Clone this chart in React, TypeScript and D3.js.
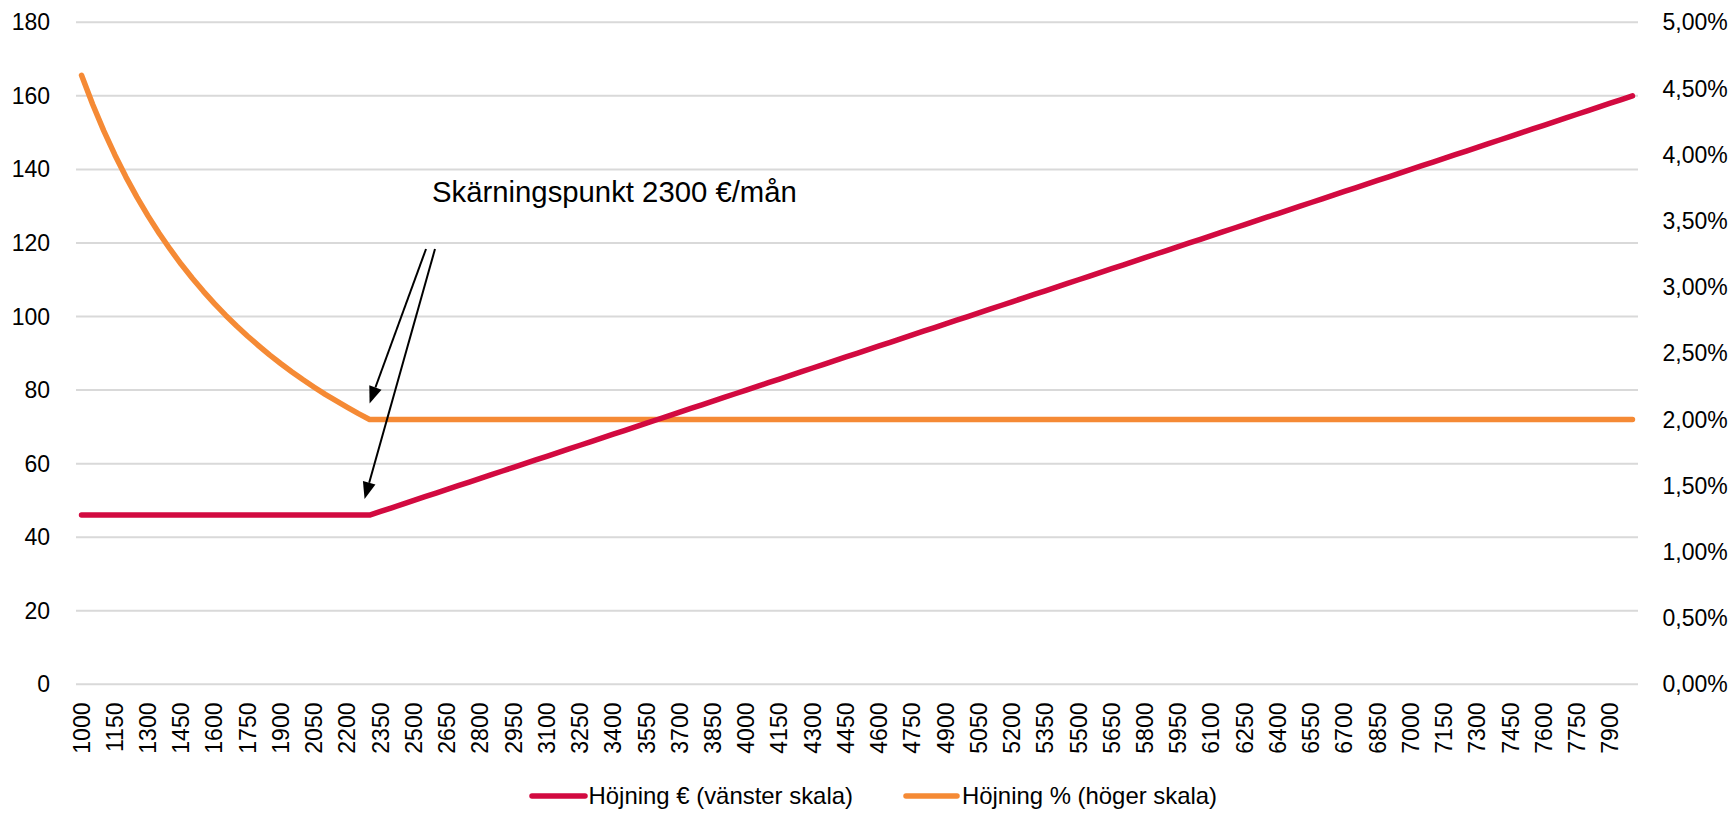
import React from "react";
import * as d3 from "d3";

// Categories: monthly salary (€), step 50
const salaries: number[] = d3.range(1000, 8001, 50);

// Höjning € (left scale)
const raiseEuro: number[] = [
  46, 46, 46, 46, 46, 46, 46, 46, 46, 46, 46, 46, 46, 46, 46, 46, 46, 46, 46, 46, 46, 46, 46, 46, 46, 46, 46,
  47, 48, 49, 50, 51, 52, 53, 54, 55, 56, 57, 58, 59, 60, 61, 62, 63, 64, 65, 66, 67, 68, 69, 70,
  71, 72, 73, 74, 75, 76, 77, 78, 79, 80, 81, 82, 83, 84, 85, 86, 87, 88, 89, 90,
  91, 92, 93, 94, 95, 96, 97, 98, 99, 100, 101, 102, 103, 104, 105, 106, 107, 108, 109, 110,
  111, 112, 113, 114, 115, 116, 117, 118, 119, 120, 121, 122, 123, 124, 125, 126, 127, 128, 129, 130,
  131, 132, 133, 134, 135, 136, 137, 138, 139, 140, 141, 142, 143, 144, 145, 146, 147, 148, 149, 150,
  151, 152, 153, 154, 155, 156, 157, 158, 159, 160,
];

// Höjning % (right scale)
const raisePct: number[] = [
  4.6, 4.381, 4.182, 4.0, 3.833, 3.68, 3.538, 3.407, 3.286, 3.172, 3.067, 2.968, 2.875, 2.788, 2.706, 2.629,
  2.556, 2.486, 2.421, 2.359, 2.3, 2.244, 2.19, 2.14, 2.091, 2.044, 2.0,
  2.0, 2.0, 2.0, 2.0, 2.0, 2.0, 2.0, 2.0, 2.0, 2.0, 2.0, 2.0, 2.0, 2.0, 2.0, 2.0, 2.0, 2.0, 2.0, 2.0,
  2.0, 2.0, 2.0, 2.0, 2.0, 2.0, 2.0, 2.0, 2.0, 2.0, 2.0, 2.0, 2.0, 2.0, 2.0, 2.0, 2.0, 2.0, 2.0, 2.0,
  2.0, 2.0, 2.0, 2.0, 2.0, 2.0, 2.0, 2.0, 2.0, 2.0, 2.0, 2.0, 2.0, 2.0, 2.0, 2.0, 2.0, 2.0, 2.0, 2.0,
  2.0, 2.0, 2.0, 2.0, 2.0, 2.0, 2.0, 2.0, 2.0, 2.0, 2.0, 2.0, 2.0, 2.0, 2.0, 2.0, 2.0, 2.0, 2.0, 2.0,
  2.0, 2.0, 2.0, 2.0, 2.0, 2.0, 2.0, 2.0, 2.0, 2.0, 2.0, 2.0, 2.0, 2.0, 2.0, 2.0, 2.0, 2.0, 2.0, 2.0,
  2.0, 2.0, 2.0, 2.0, 2.0, 2.0, 2.0, 2.0, 2.0, 2.0, 2.0, 2.0, 2.0, 2.0,
];

const leftTicks: number[] = [0, 20, 40, 60, 80, 100, 120, 140, 160, 180];
const rightTicks: number[] = [0, 0.5, 1, 1.5, 2, 2.5, 3, 3.5, 4, 4.5, 5];
const xLabelStep = 3;

const seriesNames = ["Höjning € (vänster skala)", "Höjning % (höger skala)"];
const annotationText = "Skärningspunkt 2300 €/mån";
const cutoffSalary = 2300;

const RED = "#D20A40";
const ORANGE = "#F58A35";
const GRID = "#D9D9D9";
const FONT = "Arial, 'Liberation Sans', Helvetica, sans-serif";

export default function App() {
  const W = 1733;
  const H = 813;
  const left = 76;
  const right = 1638;
  const top = 22.3;
  const bottom = 684.3;

  const x = d3
    .scaleBand<number>()
    .domain(salaries)
    .range([left, right])
    .paddingInner(0)
    .paddingOuter(0);
  const cx = (s: number) => (x(s) ?? 0) + x.bandwidth() / 2;
  const yL = d3.scaleLinear().domain([0, 180]).range([bottom, top]);
  const yR = d3.scaleLinear().domain([0, 5]).range([bottom, top]);

  const redLine = d3
    .line<number>()
    .x((_, i) => cx(salaries[i]))
    .y((d) => yL(d));
  const orangeLine = d3
    .line<number>()
    .x((_, i) => cx(salaries[i]))
    .y((d) => yR(d));

  const fmtPct = (v: number) => v.toFixed(2).replace(".", ",") + "%";

  const cutIdx = salaries.indexOf(cutoffSalary);
  const tipX = cx(cutoffSalary);
  const tip1 = { x: tipX, y: yR(raisePct[cutIdx]) - 16 };
  const tip2 = { x: tipX - 5, y: yL(raiseEuro[cutIdx]) - 16 };
  const start1 = { x: 426, y: 249 };
  const start2 = { x: 435, y: 249 };

  const arrow = (s: { x: number; y: number }, t: { x: number; y: number }, key: string) => {
    const ang = Math.atan2(t.y - s.y, t.x - s.x);
    const len = 17;
    const half = 6.5;
    const bx = t.x - len * Math.cos(ang);
    const by = t.y - len * Math.sin(ang);
    const px = -Math.sin(ang) * half;
    const py = Math.cos(ang) * half;
    return (
      <g key={key}>
        <line x1={s.x} y1={s.y} x2={bx} y2={by} stroke="#000" strokeWidth={2} />
        <polygon points={`${t.x},${t.y} ${bx + px},${by + py} ${bx - px},${by - py}`} fill="#000" />
      </g>
    );
  };

  return (
    <svg
      width={W}
      height={H}
      style={{ position: "absolute", left: 0, top: 0, background: "#fff" }}
      fontFamily={FONT}
    >
      {leftTicks.map((t) => (
        <line key={"g" + t} x1={left} x2={right} y1={yL(t)} y2={yL(t)} stroke={GRID} strokeWidth={2} />
      ))}
      {leftTicks.map((t) => (
        <text
          key={"l" + t}
          x={50}
          y={yL(t)}
          textAnchor="end"
          dominantBaseline="central"
          fontSize={23}
          fill="#000"
        >
          {t}
        </text>
      ))}
      {rightTicks.map((t) => (
        <text
          key={"r" + t}
          x={1662.5}
          y={yR(t)}
          textAnchor="start"
          dominantBaseline="central"
          fontSize={23}
          fill="#000"
        >
          {fmtPct(t)}
        </text>
      ))}
      {salaries
        .filter((_, i) => i % xLabelStep === 0)
        .map((s) => (
          <text
            key={"x" + s}
            transform={`translate(${cx(s)},702.5) rotate(-90)`}
            textAnchor="end"
            dominantBaseline="central"
            fontSize={23}
            fill="#000"
          >
            {s}
          </text>
        ))}
      <path
        d={orangeLine(raisePct) ?? ""}
        fill="none"
        stroke={ORANGE}
        strokeWidth={5.5}
        strokeLinecap="round"
        strokeLinejoin="round"
      />
      <path
        d={redLine(raiseEuro) ?? ""}
        fill="none"
        stroke={RED}
        strokeWidth={5.5}
        strokeLinecap="round"
        strokeLinejoin="round"
      />
      <text x={432} y={191} fontSize={29.3} fill="#000" dominantBaseline="central">
        {annotationText}
      </text>
      {arrow(start1, tip1, "a1")}
      {arrow(start2, tip2, "a2")}
      <line x1={532} x2={585} y1={796} y2={796} stroke={RED} strokeWidth={5.5} strokeLinecap="round" />
      <text x={588.5} y={804} fontSize={24} fill="#000" textLength={264.5} lengthAdjust="spacingAndGlyphs">
        {seriesNames[0]}
      </text>
      <line x1={906} x2={957} y1={796} y2={796} stroke={ORANGE} strokeWidth={5.5} strokeLinecap="round" />
      <text x={962} y={804} fontSize={24} fill="#000" textLength={255} lengthAdjust="spacingAndGlyphs">
        {seriesNames[1]}
      </text>
    </svg>
  );
}
